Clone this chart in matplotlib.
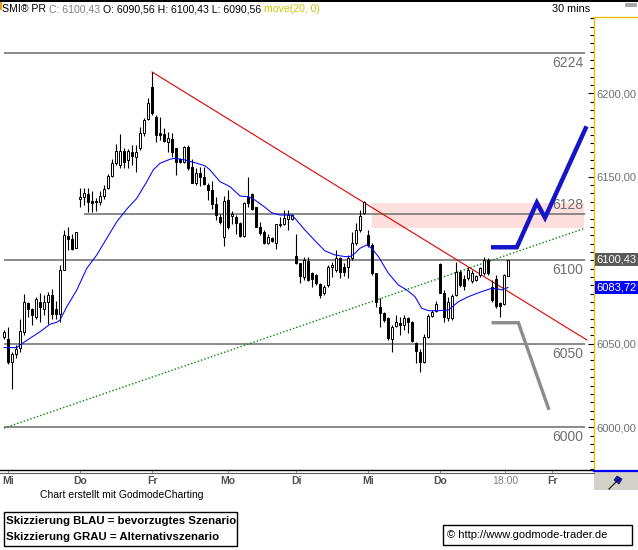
import numpy as np
import matplotlib
matplotlib.use("Agg")
import matplotlib.pyplot as plt
from matplotlib.patches import Rectangle, Polygon
from matplotlib.lines import Line2D

plt.rcParams['font.family'] = ['Liberation Sans', 'DejaVu Sans']

# ---- 30 min candles, SMI (bar index 0 .. 126) ----
opens = [6054, 6053, 6039, 6044, 6047.5, 6057, 6074.5, 6071, 6066, 6075,
         6071, 6075, 6079, 6071, 6068, 6094, 6114.5, 6113, 6107.6,
         6136.5, 6137.7, 6139.7, 6135.5, 6135, 6134.7, 6138.7, 6143.1, 6150.7, 6158.4,
         6157, 6165.4, 6160, 6164.7, 6161.7, 6167, 6176, 6184.6,
         6204, 6186, 6176, 6175.4, 6170.7, 6172.5, 6167, 6160.5, 6159, 6168,
         6156, 6146.5, 6152, 6150, 6145, 6142, 6133.7, 6126.1,
         6113.8, 6136, 6126.5, 6126, 6122.5, 6114.5, 6137.7, 6139.7, 6131.8, 6120,
         6117, 6110.5, 6113.5, 6110.5, 6121, 6121.7, 6125, 6125,
         6102.6, 6098.2, 6090.2, 6099.8, 6092.2, 6091.2, 6085.8, 6080.2, 6085.2, 6096,
         6094.2, 6101.2, 6096.2, 6096.2, 6101.2, 6110.2, 6118, 6128.2,
         6115.2, 6109.2, 6092.2, 6072.2, 6068.6, 6065.2, 6052.7, 6060.6, 6062.3, 6061.2,
         6065.2, 6063.2, 6050.3, 6045.3, 6039.3, 6054.3, 6066.7, 6069.8,
         6097.8, 6080.6, 6065.2, 6065.2, 6079.2, 6093.2, 6088.6, 6089.2, 6087.8, 6088.2,
         6091.2, 6092.2, 6100.2, 6084, 6088.6, 6074.6, 6073.6, 6090.56]
highs = [6058, 6060, 6045, 6049, 6065, 6080, 6075, 6071.6, 6078, 6080.6,
         6079, 6081, 6083, 6075.6, 6097, 6118, 6120, 6116, 6117,
         6143.5, 6143.5, 6143, 6141.5, 6137.5, 6141.5, 6145, 6151.5, 6160.5, 6169.5,
         6175.6, 6167, 6166.5, 6169, 6169, 6180, 6185, 6197,
         6213, 6187, 6186, 6179, 6177, 6176.4, 6167.5, 6161, 6168.3, 6169,
         6160.5, 6155, 6156, 6156, 6146, 6147.7, 6138, 6128,
         6138.5, 6142, 6129.7, 6127, 6123, 6135, 6150, 6140, 6132, 6123,
         6118, 6116, 6114, 6122, 6126, 6130, 6130, 6128,
         6116, 6098.6, 6102.2, 6102.2, 6093.2, 6091.8, 6086.2, 6085.2, 6097.2, 6099.2,
         6106.2, 6102.2, 6098.2, 6103.2, 6117.1, 6122.1, 6130, 6135.7,
         6118, 6110.2, 6092.5, 6077.2, 6069.2, 6066.2, 6061.3, 6067.2, 6066.2, 6067.2,
         6066.2, 6063.8, 6051.3, 6046.7, 6056, 6067.8, 6070.2, 6075.8,
         6098.6, 6082.2, 6078.2, 6079.8, 6099.2, 6094.2, 6091.2, 6095.8, 6094.2, 6091,
         6096.2, 6102.2, 6101.2, 6088, 6091, 6075, 6092, 6100.43]
lows = [6053, 6038, 6023, 6041.5, 6045, 6055, 6066, 6061, 6065, 6063,
        6067, 6062, 6065, 6065, 6063, 6094, 6106, 6106, 6107.5,
        6132, 6133, 6129, 6129, 6129.7, 6133, 6137, 6142.7, 6150, 6157,
        6155, 6155, 6155, 6157, 6152.7, 6166, 6174.6, 6184,
        6187, 6170.7, 6172, 6170.7, 6165, 6162, 6151, 6158.4, 6158.4, 6154,
        6146, 6145, 6144.5, 6145, 6136, 6131, 6124, 6122,
        6108.6, 6119, 6122, 6116, 6114, 6114, 6131.8, 6130, 6119.8, 6115,
        6109.8, 6109.8, 6111, 6107, 6120, 6121, 6118, 6124,
        6097.8, 6086.2, 6088.2, 6087.8, 6084.2, 6085.2, 6077.2, 6079.2, 6084.2, 6090.2,
        6093.2, 6089.2, 6090.6, 6089.2, 6100.2, 6109.2, 6117.1, 6127.5,
        6108.2, 6091.2, 6072.2, 6059.9, 6063.2, 6052.3, 6045.3, 6060.2, 6055.3, 6058.3,
        6056.3, 6051.3, 6038.3, 6033.3, 6038.7, 6053.3, 6066.2, 6069.2,
        6080.2, 6063.2, 6063.8, 6064.2, 6078.6, 6084.2, 6082, 6088.2, 6086.2, 6087.5,
        6090.2, 6091.2, 6091.2, 6075, 6071.5, 6066, 6073, 6090.56]
closes = [6057, 6039, 6044, 6047, 6057.7, 6075, 6071, 6067, 6077, 6072,
          6075, 6079, 6068, 6068, 6094, 6115, 6113, 6107, 6116.8,
          6137.8, 6140, 6135, 6134.5, 6135.2, 6138.5, 6142.7, 6150.5, 6158.4, 6165.4,
          6165.4, 6159, 6165.4, 6162.6, 6164.7, 6176, 6184, 6194,
          6188.4, 6175, 6175, 6171.4, 6173, 6165, 6159, 6159, 6167.7, 6155,
          6146.5, 6152, 6149.7, 6145.7, 6142, 6134, 6127.1, 6123.1,
          6135.7, 6120, 6128, 6122.5, 6114.5, 6134.5, 6134.5, 6130.5, 6120.1, 6116.5,
          6110.5, 6113.8, 6111.7, 6121.7, 6121.7, 6125.1, 6127, 6127,
          6098.2, 6090.6, 6100.2, 6088.2, 6088.6, 6086.2, 6079.2, 6084.2, 6096.2, 6097.2,
          6101.5, 6093.2, 6093.2, 6101.2, 6110.2, 6118.1, 6126.5, 6135.1,
          6109.2, 6092.2, 6075.2, 6068.3, 6064.2, 6053.3, 6059.9, 6063.2, 6061.2, 6065.2,
          6063.2, 6051.9, 6045.9, 6039.3, 6054.3, 6066.7, 6069.2, 6073.8,
          6080.6, 6065.9, 6075.2, 6078.6, 6093.2, 6085.2, 6084.6, 6094.2, 6092.2, 6090.6,
          6095.2, 6100.2, 6092.2, 6076, 6072.6, 6072.6, 6091.2, 6100.43]

# move(20, 0)
ma_x = [0, 3.2, 4, 6.5, 9, 11.5, 13.2, 14, 15.7, 18.2, 20.7, 23.2, 25.7, 28.2, 30.7,
        33.2, 35.7, 37.3, 39, 41.5, 42.75, 45.25, 47.75, 50.25, 51.5, 54, 56.5, 59,
        61.1, 62.75, 65.25, 66.9, 69, 71.9, 72.75, 75.25, 77.75, 80.25, 82.75, 85.25,
        86.5, 87.75, 89, 90.7, 91.9, 93.6, 96.1, 98.6, 100.7, 102.75, 104.4, 106.1,
        108.6, 111.1, 113.6, 116.1, 119.4, 121.9, 123.2, 124.4, 126]
ma_val = [6047.7, 6047.7, 6049.3, 6053.3, 6057.2, 6061.7, 6062.9, 6064.2, 6072.2, 6082.2,
          6095.2, 6103.2, 6113.2, 6123.1, 6130.7, 6137.1, 6147.1, 6154.1, 6158.1, 6160.5,
          6161.1, 6160.1, 6158.4, 6156.6, 6154.1, 6147.1, 6144.1, 6138.5, 6138.1, 6136.1,
          6131.7, 6128.5, 6127.1, 6127.1, 6125.1, 6118.1, 6111.7, 6105.6, 6103.2, 6102.2,
          6102.2, 6104.2, 6107.2, 6109.2, 6107.2, 6102.2, 6092.2, 6085.2, 6082.2, 6078.2,
          6071.3, 6069.8, 6069.8, 6070.2, 6075.2, 6078.2, 6081.2, 6083.2, 6083.0, 6082.2,
          6083.72]

# drawn lines
levels = [6224, 6128, 6100, 6050, 6000]
level_start = [0, 20, 0, 0, 0]
red_x, red_y = [37, 145.7], [6212.8, 6052.3]
green_x, green_y = [0, 145.25], [5999.5, 6119.2]
zone_x, zone_y = [91.9, 145], [6119.2, 6134.1]
blue_x = [122.3, 128.2, 133.2, 135.25, 145.4]
blue_y = [6107.8, 6107.8, 6134.5, 6125.5, 6179]
gray_x = [122.3, 128.6, 136.1]
gray_y = [6062.6, 6062.6, 6011.4]

day_pos = [1, 19, 37, 56, 73, 91, 109, 125.2, 137]
day_lab = ['Mi', 'Do', 'Fr', 'Mo', 'Di', 'Mi', 'Do', '18:00', 'Fr']

W, H = 638, 550
def fx(px):
    return px / W
def fy(py):
    return 1 - py / H

fig = plt.figure(figsize=(6.38, 5.5), dpi=100)
fig.patch.set_facecolor('white')
ax = fig.add_axes([0, fy(470), fx(594), fy(17) - fy(470)])
ax.set_xlim(-1, 147.5)
ax.set_ylim(5974.4, 6245.7)

# levels + labels
for lv, st in zip(levels, level_start):
    ax.hlines(lv, st, 145.3, color='#808080', lw=1.3, zorder=1)
    if lv == 6128:
        ax.annotate(str(lv), (144.8, lv), xytext=(0, 1), textcoords='offset points',
                    ha='right', va='bottom', fontsize=10, color='#707070')
    else:
        ax.annotate(str(lv), (144.8, lv), xytext=(0, -2), textcoords='offset points',
                    ha='right', va='top', fontsize=10, color='#707070')

ax.add_patch(Rectangle((zone_x[0], zone_y[0]), zone_x[1] - zone_x[0], zone_y[1] - zone_y[0],
                       facecolor='#FFDEDE', edgecolor='none', zorder=0.5))

ax.plot(red_x, red_y, color='#E00000', lw=0.8, zorder=2)
ax.plot(green_x, green_y, color='#008800', lw=1.0, ls=(0, (1, 1.5)), zorder=2)
ax.plot(ma_x, ma_val, color='#0000FF', lw=0.75, zorder=5)

# candles
idx = np.arange(len(closes))
o = np.array(opens)
c = np.array(closes)
ax.vlines(idx, lows, highs, color='black', lw=0.8, zorder=3)
body_h = np.maximum(np.abs(c - o), 0.6)
face = ['white' if cc >= oo else 'black' for oo, cc in zip(o, c)]
ax.bar(idx, body_h, bottom=np.minimum(o, c), width=0.65, color=face,
       edgecolor='black', lw=0.7, zorder=4)

# scenario sketches
ax.plot(blue_x, blue_y, color='#1414C8', lw=3.2, solid_joinstyle='miter', zorder=6)
ax.plot(gray_x, gray_y, color='#8C8C8C', lw=2.4, solid_joinstyle='miter', zorder=6)

# axes styling
for s in ['top', 'left']:
    ax.spines[s].set_visible(False)
ax.spines['right'].set_color('#F0C000')
ax.spines['right'].set_linewidth(1.0)
ax.spines['bottom'].set_color('black')
ax.spines['bottom'].set_linewidth(1.0)

ax.yaxis.tick_right()
ax.set_yticks([6000, 6050, 6150, 6200])
ax.set_yticklabels(['6000,00', '6050,00', '6150,00', '6200,00'])
ax.set_yticks(np.arange(5975, 6246, 5), minor=True)
ax.tick_params(axis='y', which='both', direction='in', length=3, width=0.8, color='black')
ax.tick_params(axis='y', which='major', length=4, pad=2, labelsize=8, labelcolor='#707070')

ax.set_xticks(day_pos)
ax.set_xticklabels(day_lab)
ax.tick_params(axis='x', direction='out', length=2, width=0.6, color='#808080', pad=2,
               labelsize=7.5)
for t in ax.get_xticklabels():
    if t.get_text() == '18:00':
        t.set_color('#808080')
    else:
        t.set_color('#505050')
        t.set_fontweight('bold')

ytr = ax.get_yaxis_transform()
ax.text(1.004, 6100.43, '6100,43', transform=ytr, ha='left', va='center', fontsize=8,
        color='white', bbox=dict(facecolor='#5A5A5A', edgecolor='none', pad=1.2), zorder=10)
ax.text(1.004, 6083.72, '6083,72', transform=ytr, ha='left', va='center', fontsize=8,
        color='white', bbox=dict(facecolor='#0000FF', edgecolor='none', pad=1.2), zorder=10)

# frame decorations
fig.add_artist(Rectangle((0, fy(1.7)), 1, fy(0) - fy(1.7), transform=fig.transFigure,
                         facecolor='black', edgecolor='none'))
fig.add_artist(Rectangle((0, fy(10)), fx(1.5), fy(1.7) - fy(10), transform=fig.transFigure,
                         facecolor='#F0A000', edgecolor='none'))
fig.add_artist(Line2D([fx(594), 1], [fy(17), fy(17)], color='#F0C000', lw=1.0))
fig.add_artist(Rectangle((fx(625), fy(6.5)), fx(12), fy(3) - fy(6.5), transform=fig.transFigure,
                         facecolor='#A8A8A8', edgecolor='none'))
fig.add_artist(Line2D([0, fx(594)], [fy(472.5), fy(472.5)], color='#606060', lw=0.8))

# lower right widget
fig.add_artist(Rectangle((fx(594), fy(490)), fx(44), fy(471) - fy(490), transform=fig.transFigure,
                         facecolor='#D4D0C8', edgecolor='none'))
fig.add_artist(Line2D([fx(594), 1], [fy(471), fy(471)], color='#0000FF', lw=1.6))
fig.add_artist(Line2D([fx(609), fx(619)], [fy(489), fy(479)], color='black', lw=0.8))
fig.add_artist(Polygon([(fx(614), fy(480)), (fx(617), fy(476)), (fx(622), fy(479)),
                        (fx(619), fy(484))], closed=True, transform=fig.transFigure,
                       facecolor='#1020D0', edgecolor='#000060', lw=0.5))

# header, pieces laid out one after another
renderer = fig.canvas.get_renderer()
hx = 2
for txt, col in [('SMI® PR ', 'black'), ('C: 6100,43 ', '#808080'),
                 ('O: 6090,56 H: 6100,43 L: 6090,56 ', 'black'), ('move(20, 0)', '#C8C800')]:
    t = fig.text(fx(hx), fy(9), txt, fontsize=7.6, color=col, va='center')
    hx += t.get_window_extent(renderer).width
fig.text(fx(590), fy(9), '30 mins', fontsize=7.8, color='black', va='center', ha='right')

# footer
fig.text(fx(40), fy(495), 'Chart erstellt mit GodmodeCharting', fontsize=7.5, color='black',
         va='center')
fig.add_artist(Rectangle((fx(3.5), fy(545.5)), fx(233.5), fy(511.5) - fy(545.5),
                         transform=fig.transFigure, facecolor='white', edgecolor='black', lw=1))
fig.text(fx(6), fy(521.5), 'Skizzierung BLAU = bevorzugtes Szenario', fontsize=8.2,
         fontweight='bold', va='center')
fig.text(fx(6), fy(537), 'Skizzierung GRAU = Alternativszenario', fontsize=8.2,
         fontweight='bold', va='center')
fig.add_artist(Rectangle((fx(443), fy(545)), fx(189), fy(525) - fy(545),
                         transform=fig.transFigure, facecolor='white', edgecolor='black', lw=1))
fig.text(fx(447), fy(535), '© http://www.godmode-trader.de', fontsize=8, va='center')

fig.savefig('out.png', dpi=100, facecolor='white')
